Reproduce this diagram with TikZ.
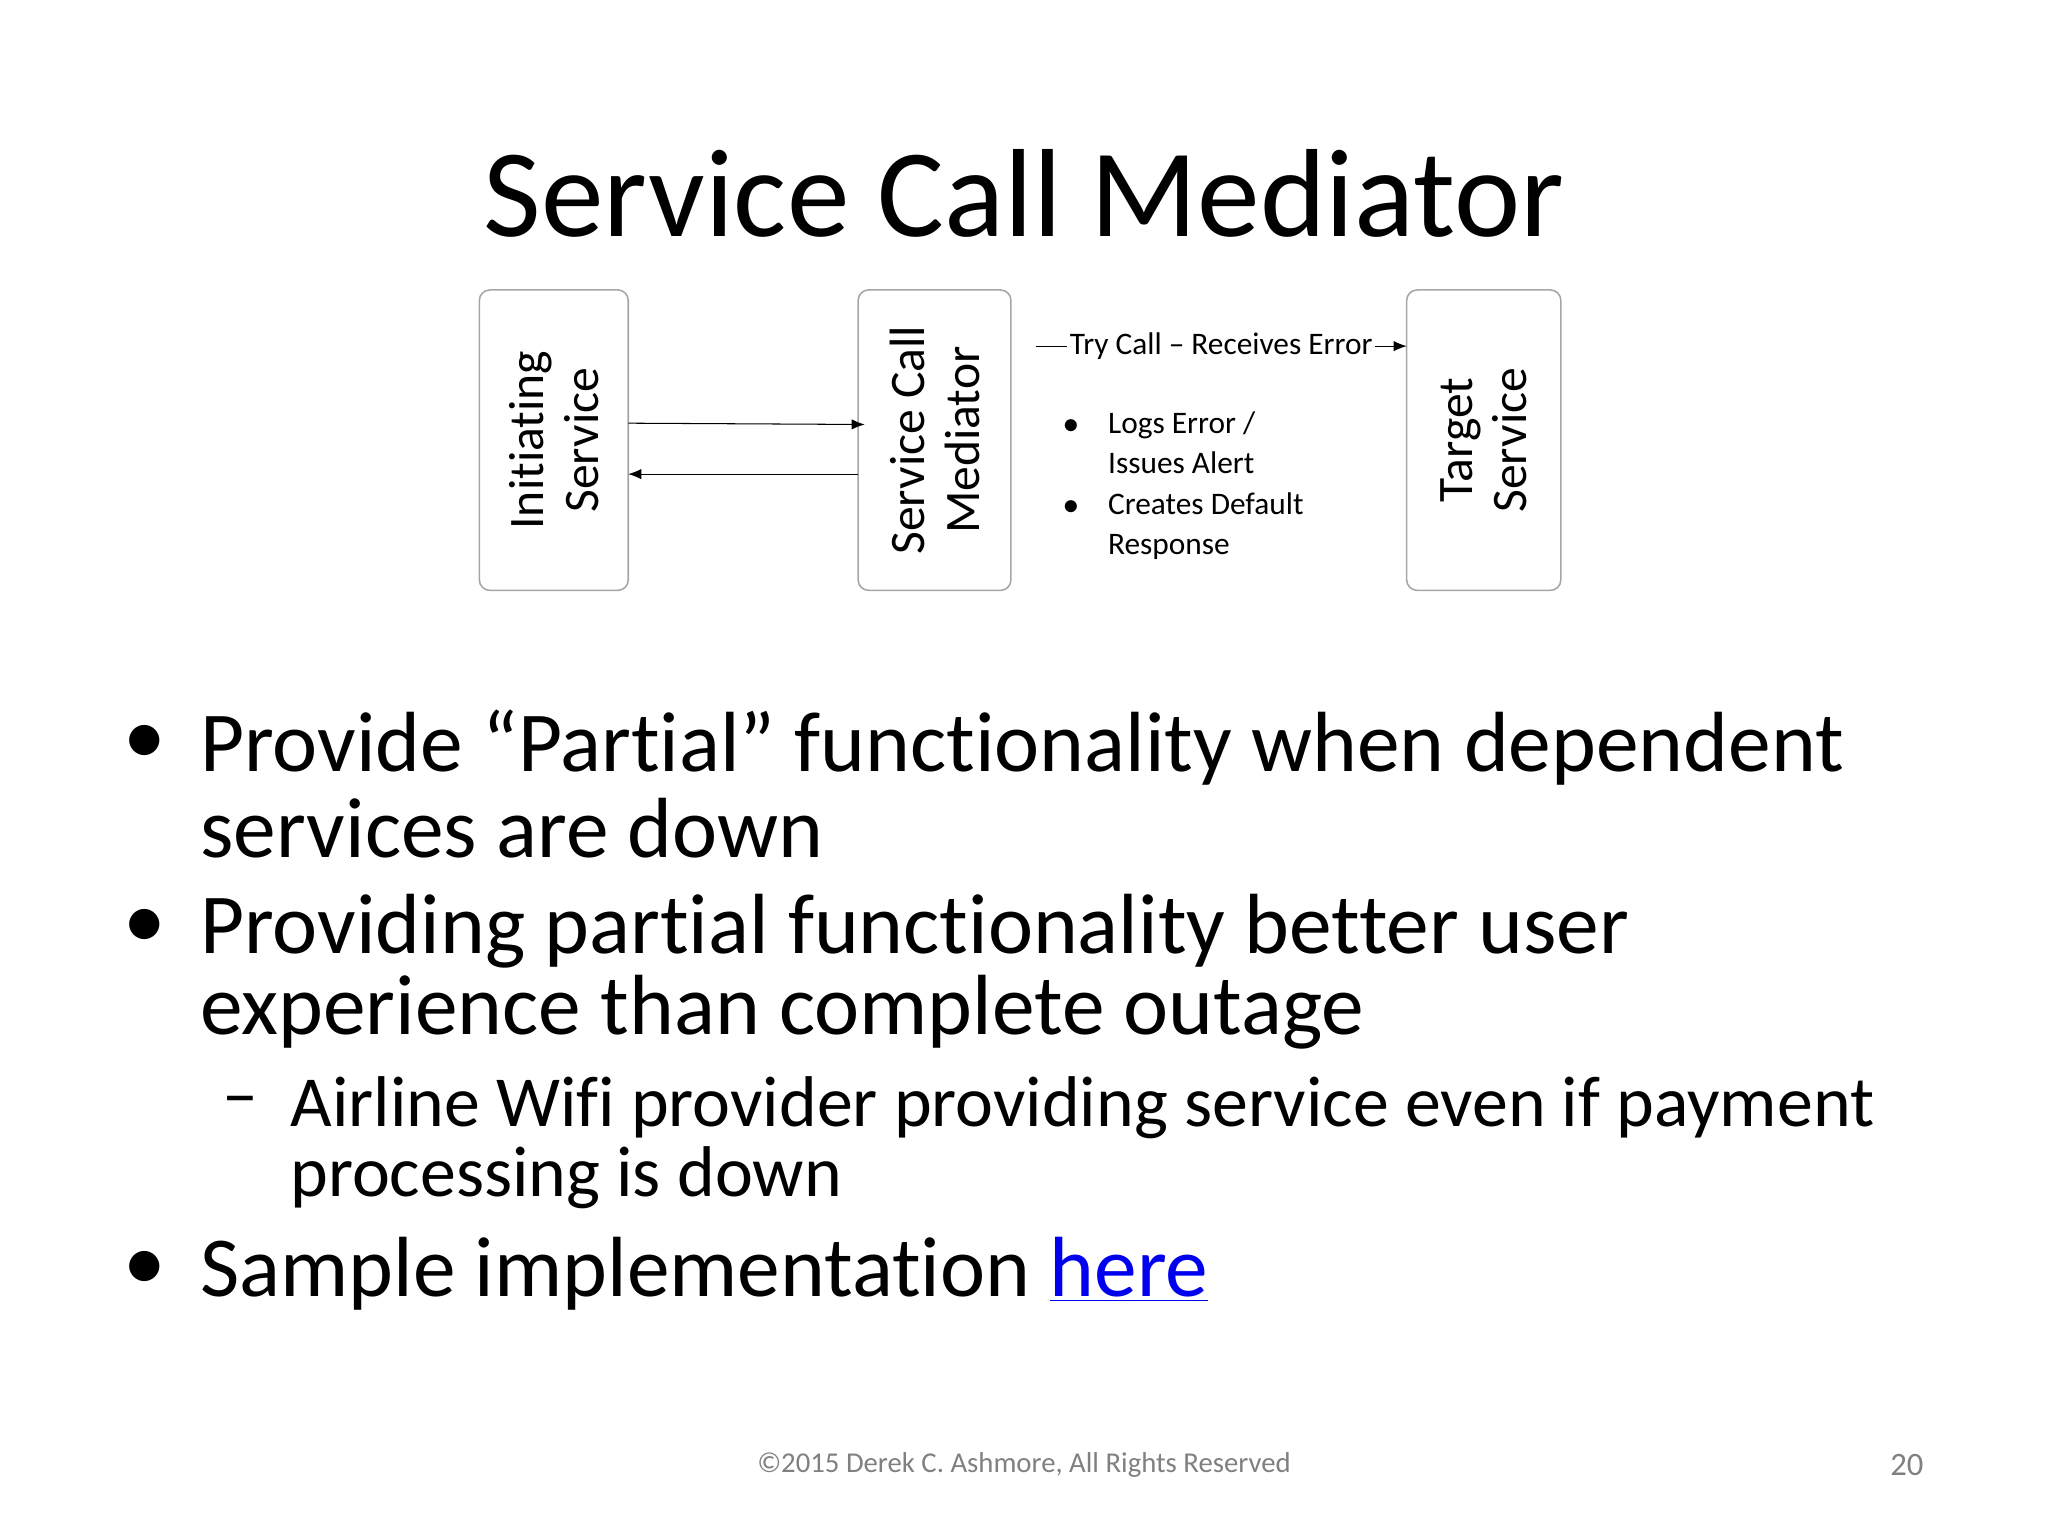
\documentclass[tikz,border=0pt]{standalone}
\usepackage{fontspec}
\setmainfont[Ligatures=NoCommon]{Carlito}
\usetikzlibrary{arrows.meta}
\definecolor{linkblue}{RGB}{0,0,238}
\begin{document}
\begin{tikzpicture}[x=0.5pt,y=-0.5pt,
  box/.style={draw=gray!70,rounded corners=4pt,line width=0.6pt},
  vtext/.style={rotate=90,align=center,font=\fontsize{19}{21}\selectfont},
  small/.style={font=\fontsize{12}{15.5}\selectfont},
  big/.style={anchor=west,inner sep=0,font=\fontsize{32.7}{36}\selectfont},
  mid/.style={anchor=west,inner sep=0,font=\fontsize{27.5}{32}\selectfont},
  arr/.style={-{Latex[length=5pt,width=4pt]},line width=0.4pt}]
\useasboundingbox (0,0) rectangle (1568,1176);
\node[font=\fontsize{48}{54}\selectfont] (title) at (784,148) {Service Call Mediator};
\node[box,minimum width=57pt,minimum height=115pt] (init) at (424,337) {};
\node[vtext] at (init.center) {Initiating\\Service};
\node[box,minimum width=58.5pt,minimum height=115pt] (med) at (715.5,337) {};
\node[vtext] at (med.center) {Service Call\\Mediator};
\node[box,minimum width=59pt,minimum height=115pt] (tgt) at (1136,337) {};
\node[vtext] at (tgt.center) {Target\\Service};
\coordinate (a1) at (481,324);
\coordinate (a2) at (662,325);
\draw[arr] (a1) -- (a2);
\coordinate (b1) at (657,363);
\coordinate (b2) at (481,363);
\draw[arr] (b1) -- (b2);
\coordinate (c1) at (793,265);
\coordinate (c2) at (1077,265);
\draw[arr] (c1) -- (c2) node[midway,fill=white,inner sep=1pt,small] (tc) {Try Call – Receives Error};
\node[small,anchor=west,align=left,inner sep=0] (bl) at (814,372) {\begin{tabular}{@{}l@{\hspace{11pt}}l@{}}
$\bullet$ & Logs Error /\\ & Issues Alert\\ $\bullet$ & Creates Default\\ & Response\end{tabular}};
\node[big] (d1) at (94,570) {•};
\node[big] (t1) at (153,572) {Provide “Partial” functionality when dependent};
\node[big] (t1b) at (153,634) {services are down};
\node[big] (d2) at (94,711) {•};
\node[big] (t2) at (153,713) {Providing partial functionality better user};
\node[big] (t2b) at (153,775) {experience than complete outage};
\node[mid] (d3) at (170,848) {–};
\node[mid] (t3) at (222,848) {Airline Wifi provider providing service even if payment};
\node[mid] (t3b) at (222,902) {processing is down};
\node[big] (d4) at (94,973) {•};
\node[big] (t4) at (153,975) {Sample implementation \textcolor{linkblue}{\underline{here}}};
\node[text=gray,font=\fontsize{11}{13}\selectfont] (foot) at (784,1122) {©2015 Derek C. Ashmore, All Rights Reserved};
\node[text=gray,font=\fontsize{12.5}{14}\selectfont] (pg) at (1460,1122) {20};
\end{tikzpicture}
\end{document}
